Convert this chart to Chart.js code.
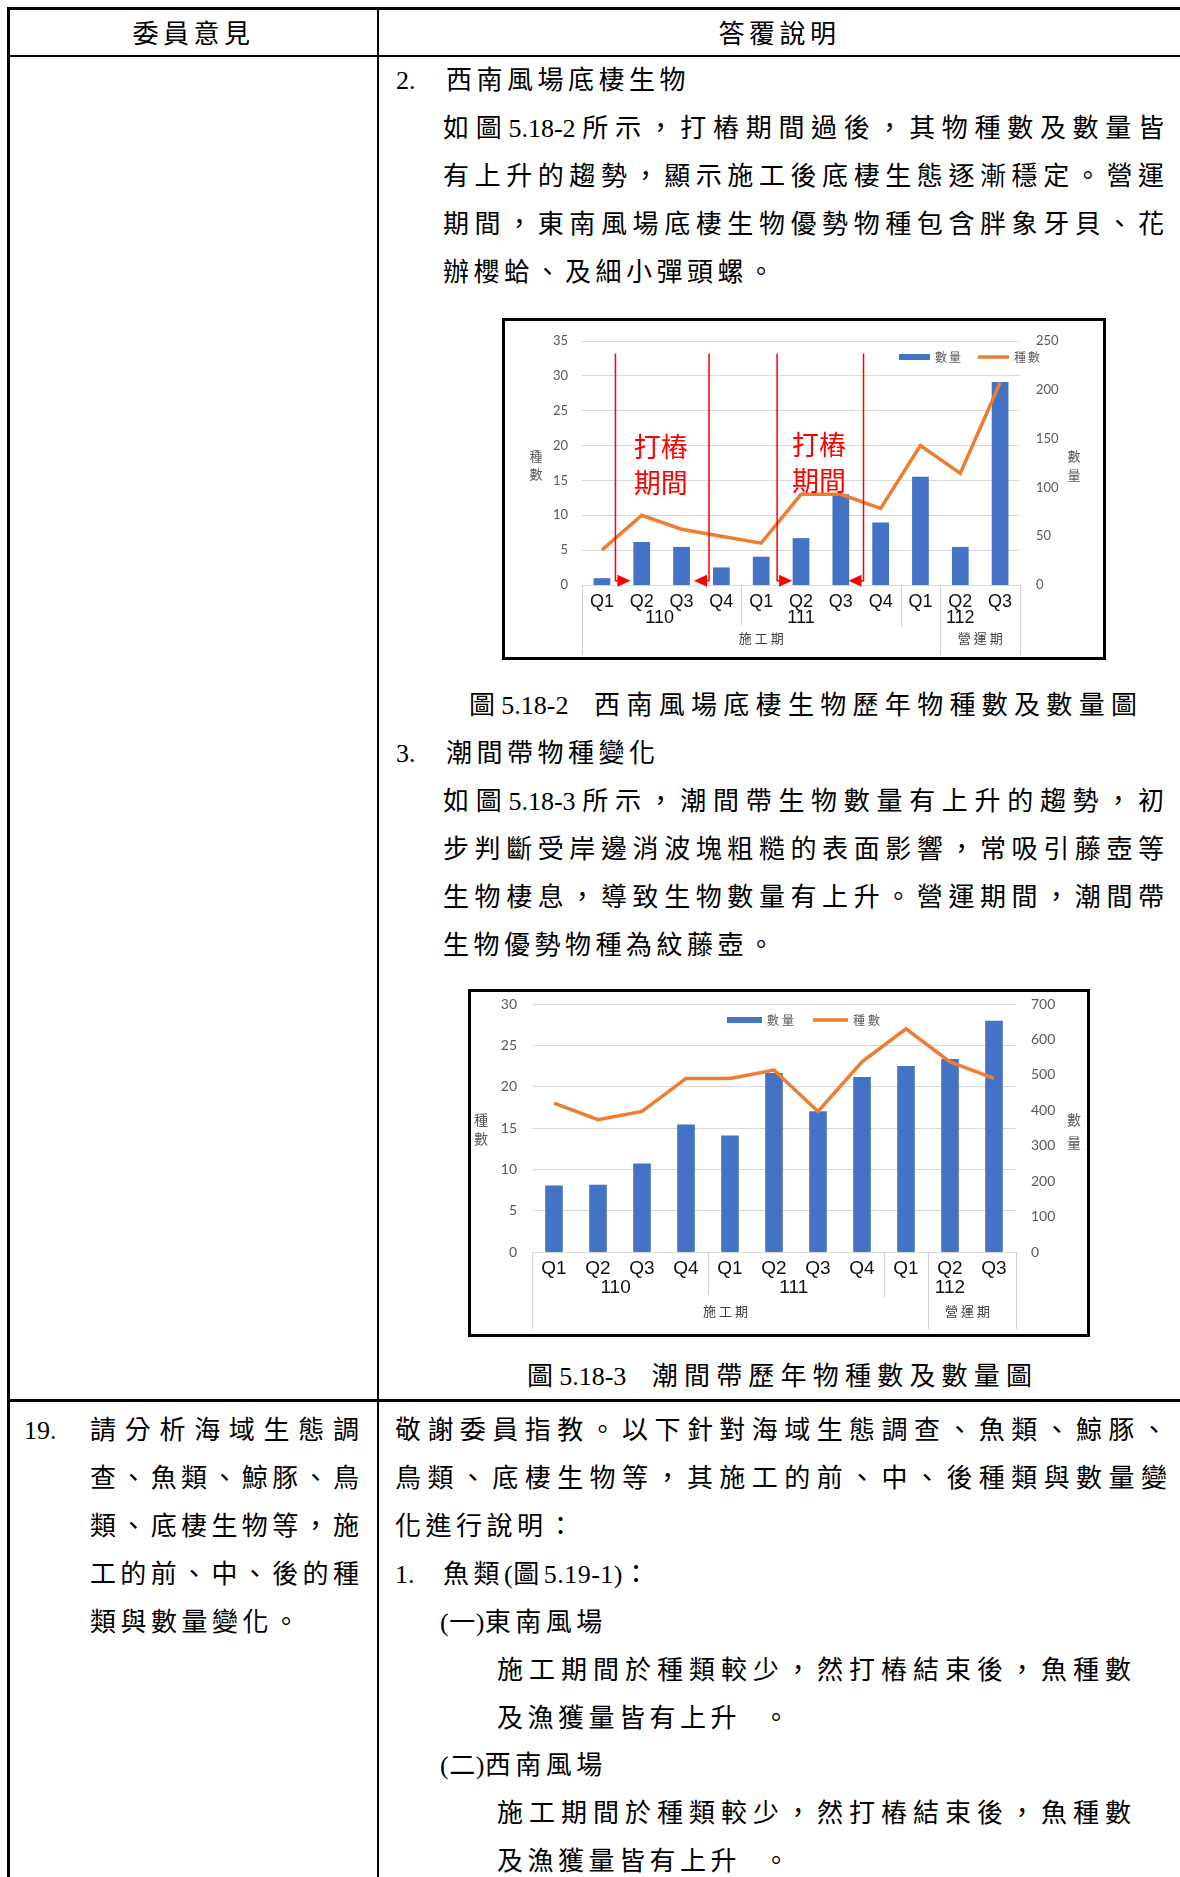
<!DOCTYPE html>
<html lang="zh-Hant">
<head>
<meta charset="UTF-8">
<title>西南風場底棲生物及潮間帶歷年物種數及數量圖</title>
<script src="https://cdn.jsdelivr.net/npm/chart.js"></script>
<style>
    body { margin: 0; background: #fff; }
    .page { position: relative; width: 1180px; height: 1877px; overflow: hidden; color: #000;
            font-family: "Liberation Serif", "Noto Sans CJK TC", serif; font-size: 26px; }
    .ln { position: absolute; height: 48px; line-height: 48px; white-space: nowrap; letter-spacing: 4.5px; }
    .jf { text-align: justify; text-align-last: justify; letter-spacing: 0; }
    .ctr { text-align: center; }
    .tight { letter-spacing: 0.5px; }
    .rule { position: absolute; background: #000; }
    .box { position: absolute; border: 3px solid #000; box-sizing: border-box; background: #fff; }
    .box canvas { display: block; }
</style>
</head>
<body>
<div class="page">
    <!-- table rules -->
    <div class="rule" style="left:7px; top:7px; width:1173px; height:3px"></div>
    <div class="rule" style="left:7px; top:7px; width:3px; height:1870px"></div>
    <div class="rule" style="left:377px; top:7px; width:2px; height:1870px"></div>
    <div class="rule" style="left:7px; top:55px; width:1173px; height:2px"></div>
    <div class="rule" style="left:7px; top:1399px; width:1173px; height:3px"></div>

    <!-- header -->
    <div class="ln ctr" style="left:10px; width:367px; top:11px">委員意見</div>
    <div class="ln ctr" style="left:379px; width:801px; top:11px">答覆說明</div>

    <!-- row 1, right column -->
    <div class="ln" style="left:396px; top:57px; letter-spacing:0">2.</div>
    <div class="ln" style="left:446px; top:57px">西南風場底棲生物</div>
    <div class="ln jf" style="left:443px; width:721px; top:105px">如圖5.18-2所示，打樁期間過後，其物種數及數量皆</div>
    <div class="ln jf" style="left:443px; width:721px; top:153px">有上升的趨勢，顯示施工後底棲生態逐漸穩定。營運</div>
    <div class="ln jf" style="left:443px; width:721px; top:201px">期間，東南風場底棲生物優勢物種包含胖象牙貝、花</div>
    <div class="ln" style="left:443px; top:249px">辦櫻蛤、及細小彈頭螺。</div>

    <div class="box" style="left:502px; top:318px; width:604px; height:342px">
        <canvas id="chartBenthic" width="598" height="336"></canvas>
    </div>

    <div class="ln jf" style="left:469px; width:668px; top:682px">圖5.18-2 &nbsp;西南風場底棲生物歷年物種數及數量圖</div>
    <div class="ln" style="left:396px; top:730px; letter-spacing:0">3.</div>
    <div class="ln" style="left:446px; top:730px">潮間帶物種變化</div>
    <div class="ln jf" style="left:443px; width:721px; top:778px">如圖5.18-3所示，潮間帶生物數量有上升的趨勢，初</div>
    <div class="ln jf" style="left:443px; width:721px; top:826px">步判斷受岸邊消波塊粗糙的表面影響，常吸引藤壺等</div>
    <div class="ln jf" style="left:443px; width:721px; top:874px">生物棲息，導致生物數量有上升。營運期間，潮間帶</div>
    <div class="ln" style="left:443px; top:922px">生物優勢物種為紋藤壺。</div>

    <div class="box" style="left:468px; top:989px; width:622px; height:348px">
        <canvas id="chartIntertidal" width="616" height="342"></canvas>
    </div>

    <div class="ln jf" style="left:527px; width:505px; top:1353px">圖5.18-3 &nbsp;潮間帶歷年物種數及數量圖</div>

    <!-- row 2, left column -->
    <div class="ln" style="left:24px; top:1407px; letter-spacing:0">19.</div>
    <div class="ln jf" style="left:90px; width:269px; top:1407px">請分析海域生態調</div>
    <div class="ln jf" style="left:90px; width:269px; top:1455px">查、魚類、鯨豚、鳥</div>
    <div class="ln jf" style="left:90px; width:269px; top:1503px">類、底棲生物等，施</div>
    <div class="ln jf" style="left:90px; width:269px; top:1551px">工的前、中、後的種</div>
    <div class="ln" style="left:90px; top:1599px">類與數量變化。</div>

    <!-- row 2, right column -->
    <div class="ln jf" style="left:395px; width:772px; top:1407px">敬謝委員指教。以下針對海域生態調查、魚類、鯨豚、</div>
    <div class="ln jf" style="left:395px; width:772px; top:1455px">鳥類、底棲生物等，其施工的前、中、後種類與數量變</div>
    <div class="ln" style="left:395px; top:1503px">化進行說明：</div>
    <div class="ln" style="left:395px; top:1551px; letter-spacing:0">1.</div>
    <div class="ln" style="left:443px; top:1551px">魚類<span class="tight">(</span>圖<span class="tight">5.19-1)</span>：</div>
    <div class="ln" style="left:440px; top:1599px"><span class="tight">(一)</span>東南風場</div>
    <div class="ln jf" style="left:497px; width:634px; top:1647px">施工期間於種類較少，然打樁結束後，魚種數</div>
    <div class="ln" style="left:497px; top:1695px">及漁獲量皆有上升 &nbsp;。</div>
    <div class="ln" style="left:440px; top:1742px"><span class="tight">(二)</span>西南風場</div>
    <div class="ln jf" style="left:497px; width:634px; top:1790px">施工期間於種類較少，然打樁結束後，魚種數</div>
    <div class="ln" style="left:497px; top:1838px">及漁獲量皆有上升 &nbsp;。</div>
</div>

<script>
    // categories
    const quarters = ['Q1', 'Q2', 'Q3', 'Q4', 'Q1', 'Q2', 'Q3', 'Q4', 'Q1', 'Q2', 'Q3'];
    const yearLabels = ['110', '111', '112'];
    const periodLabels = ['施工期', '營運期'];

    // 圖5.18-2 西南風場底棲生物
    const benthicCount = [7, 44, 39, 18, 29, 48, 93, 64, 111, 39, 208];
    const benthicSpecies = [5, 10, 8, 7, 6, 13, 13, 11, 20, 16, 29];
    const benthicSpeciesTicks = [0, 5, 10, 15, 20, 25, 30, 35];
    const benthicCountTicks = [0, 50, 100, 150, 200, 250];

    // 圖5.18-3 潮間帶
    const intertidalCount = [188, 190, 250, 360, 329, 505, 397, 494, 525, 545, 653];
    const intertidalSpecies = [18, 16, 17, 21, 21, 22, 17, 23, 27, 23, 21];
    const intertidalSpeciesTicks = [0, 5, 10, 15, 20, 25, 30];
    const intertidalCountTicks = [0, 100, 200, 300, 400, 500, 600, 700];

    const BLUE = '#4472C4';
    const ORANGE = '#ED7D31';
    const GREY = '#595959';
    const CJK = '"Noto Sans CJK TC", sans-serif';
</script>
<script>
    // multi-level category labels, legend and stacked axis titles, drawn like the Excel original
    const excelDecor = {
        id: 'excelDecor',
        afterDraw(chart, args, o) {
            const ctx = chart.ctx;
            const x = chart.scales.x;
            const area = chart.chartArea;
            ctx.save();

            ctx.strokeStyle = '#d0d0d0';
            ctx.lineWidth = 1;
            o.separators.forEach(s => {
                const px = Math.round(x.getPixelForValue(s.at)) + 0.5;
                ctx.beginPath();
                ctx.moveTo(px, area.bottom);
                ctx.lineTo(px, s.bottom);
                ctx.stroke();
            });

            ctx.textAlign = 'center';
            ctx.textBaseline = 'middle';
            ctx.fillStyle = '#111';
            ctx.font = o.qSize + 'px "Liberation Sans", Arial, sans-serif';
            yearLabels.forEach((t, i) => ctx.fillText(t, x.getPixelForValue(o.yearAt[i]), o.yearY));

            ctx.fillStyle = '#404040';
            ctx.font = '13px ' + CJK;
            ctx.letterSpacing = '3px';
            periodLabels.forEach((t, i) => ctx.fillText(t, x.getPixelForValue(o.periodAt[i]) + 1.5, o.periodY));

            // legend
            ctx.textAlign = 'left';
            ctx.font = '12px ' + CJK;
            ctx.letterSpacing = o.legend.spacing + 'px';
            let lx = o.legend.x;
            const ly = o.legend.y;
            chart.data.datasets.slice().reverse().forEach(ds => {
                if (ds.type === 'bar') {
                    ctx.fillStyle = ds.backgroundColor;
                    ctx.fillRect(lx, ly - 3, o.legend.swatch, 6);
                } else {
                    ctx.strokeStyle = ds.borderColor;
                    ctx.lineWidth = 3.5;
                    ctx.beginPath();
                    ctx.moveTo(lx, ly);
                    ctx.lineTo(lx + o.legend.swatch, ly);
                    ctx.stroke();
                }
                lx += o.legend.swatch + 5;
                ctx.fillStyle = GREY;
                ctx.fillText(ds.label, lx, ly);
                lx += ctx.measureText(ds.label).width + o.legend.gap;
            });

            // stacked axis titles
            ctx.letterSpacing = '0px';
            ctx.textAlign = 'center';
            ctx.font = o.titleSize + 'px ' + CJK;
            ctx.fillStyle = GREY;
            o.titles.forEach(t => {
                [...t.text].forEach((ch, i) => ctx.fillText(ch, t.x, t.ys[i]));
            });
            ctx.restore();
        }
    };

    // red piling-period marks on 圖5.18-2
    const pileMarks = {
        id: 'pileMarks',
        afterDatasetsDraw(chart, args, o) {
            const ctx = chart.ctx;
            const x = chart.scales.x;
            const y = chart.scales.y;
            ctx.save();
            ctx.strokeStyle = '#ff0000';
            ctx.fillStyle = '#ff0000';
            ctx.lineWidth = 1.5;
            o.lines.forEach(l => {
                const px = x.getPixelForValue(l.at);
                const top = y.getPixelForValue(l.from);
                const bot = y.getPixelForValue(l.to);
                ctx.beginPath();
                ctx.moveTo(px, top);
                ctx.lineTo(px, bot);
                ctx.lineTo(px + l.dir * 3, bot);
                ctx.stroke();
                ctx.beginPath();
                ctx.moveTo(px + l.dir * 2, bot - 6);
                ctx.lineTo(px + l.dir * 15, bot);
                ctx.lineTo(px + l.dir * 2, bot + 6);
                ctx.closePath();
                ctx.fill();
            });
            ctx.font = '27px ' + CJK;
            ctx.textAlign = 'center';
            ctx.textBaseline = 'middle';
            o.labels.forEach(t => {
                t.lines.forEach((s, i) => ctx.fillText(s, x.getPixelForValue(t.at), y.getPixelForValue(t.ys[i])));
            });
            ctx.restore();
        }
    };

    function noPad(s) {
        s.paddingTop = 0;
        s.paddingBottom = 0;
        s.paddingLeft = 0;
        s.paddingRight = 0;
    }

    function makeChart(id, counts, species, spTicks, ctTicks, cfg) {
        return new Chart(document.getElementById(id), {
            data: {
                labels: quarters,
                datasets: [
                    {
                        type: 'line',
                        label: '種數',
                        data: species,
                        yAxisID: 'y',
                        borderColor: ORANGE,
                        borderWidth: 3.5,
                        pointRadius: 0,
                        tension: 0,
                        order: 0
                    },
                    {
                        type: 'bar',
                        label: '數量',
                        data: counts,
                        yAxisID: 'y1',
                        backgroundColor: BLUE,
                        categoryPercentage: 1,
                        barPercentage: cfg.barPct,
                        order: 1
                    }
                ]
            },
            options: {
                responsive: false,
                animation: false,
                layout: { padding: { top: cfg.padTop, left: 0, right: 0, bottom: 0 } },
                plugins: {
                    legend: { display: false },
                    tooltip: { enabled: false },
                    excelDecor: cfg.decor,
                    pileMarks: cfg.marks
                },
                scales: {
                    x: {
                        grid: { display: false, drawTicks: false },
                        border: { display: true, color: '#d9d9d9' },
                        ticks: {
                            autoSkip: false, maxRotation: 0, padding: cfg.qPad, color: '#111',
                            font: { family: '"Liberation Sans", Arial, sans-serif', size: cfg.decor.qSize }
                        },
                        afterFit(s) { s.height = cfg.xHeight; noPad(s); }
                    },
                    y: {
                        position: 'left',
                        min: 0,
                        max: spTicks[spTicks.length - 1],
                        afterBuildTicks(s) { s.ticks = spTicks.map(v => ({ value: v })); },
                        grid: { color: '#d9d9d9', drawTicks: false },
                        border: { display: false },
                        ticks: { padding: cfg.leftPad, color: GREY, font: { family: 'Lato, sans-serif', size: cfg.tickSize } },
                        afterFit(s) { s.width = cfg.leftW; noPad(s); }
                    },
                    y1: {
                        position: 'right',
                        min: 0,
                        max: ctTicks[ctTicks.length - 1],
                        afterBuildTicks(s) { s.ticks = ctTicks.map(v => ({ value: v })); },
                        grid: { display: false, drawTicks: false },
                        border: { display: false },
                        ticks: { padding: cfg.rightPad, color: GREY, font: { family: 'Lato, sans-serif', size: cfg.tickSize } },
                        afterFit(s) { s.width = cfg.rightW; noPad(s); }
                    }
                }
            },
            plugins: cfg.marks ? [excelDecor, pileMarks] : [excelDecor]
        });
    }

    makeChart('chartBenthic', benthicCount, benthicSpecies, benthicSpeciesTicks, benthicCountTicks, {
        barPct: 0.42, padTop: 20, xHeight: 72, leftW: 77, rightW: 83, leftPad: 14, rightPad: 16,
        qPad: 6, tickSize: 13,
        decor: {
            qSize: 18,
            separators: [
                { at: -0.5, bottom: 334 }, { at: 3.5, bottom: 304 }, { at: 7.5, bottom: 306 },
                { at: 8.5, bottom: 334 }, { at: 10.5, bottom: 334 }
            ],
            yearAt: [1.45, 5.0, 9.0], yearY: 297,
            periodAt: [4, 9.5], periodY: 317,
            legend: { x: 394, y: 36, swatch: 31, gap: 15, spacing: 2 },
            titleSize: 13,
            titles: [{ text: '種數', x: 31, ys: [135, 153] }, { text: '數量', x: 569, ys: [135, 154] }]
        },
        marks: {
            lines: [
                { at: 0.34, from: 33.2, to: 0.6, dir: 1 },
                { at: 2.69, from: 33.2, to: 0.6, dir: -1 },
                { at: 4.40, from: 33.2, to: 0.6, dir: 1 },
                { at: 6.57, from: 33.2, to: 0.6, dir: -1 }
            ],
            labels: [
                { at: 1.48, lines: ['打樁', '期間'], ys: [19.9, 14.7] },
                { at: 5.45, lines: ['打樁', '期間'], ys: [20.1, 14.9] }
            ]
        }
    });

    makeChart('chartIntertidal', intertidalCount, intertidalSpecies, intertidalSpeciesTicks, intertidalCountTicks, {
        barPct: 0.40, padTop: 12, xHeight: 82, leftW: 61, rightW: 71, leftPad: 15, rightPad: 15,
        qPad: 5, tickSize: 14,
        decor: {
            qSize: 19,
            separators: [
                { at: -0.5, bottom: 337 }, { at: 3.5, bottom: 303 }, { at: 7.5, bottom: 305 },
                { at: 8.5, bottom: 337 }, { at: 10.5, bottom: 337 }
            ],
            yearAt: [1.4, 5.45, 9.0], yearY: 296,
            periodAt: [3.9, 9.4], periodY: 319,
            legend: { x: 256, y: 28, swatch: 35, gap: 16, spacing: 3 },
            titleSize: 14,
            titles: [{ text: '種數', x: 10, ys: [128, 147] }, { text: '數量', x: 603, ys: [128, 151] }]
        },
        marks: null
    });
</script>
</body>
</html>
